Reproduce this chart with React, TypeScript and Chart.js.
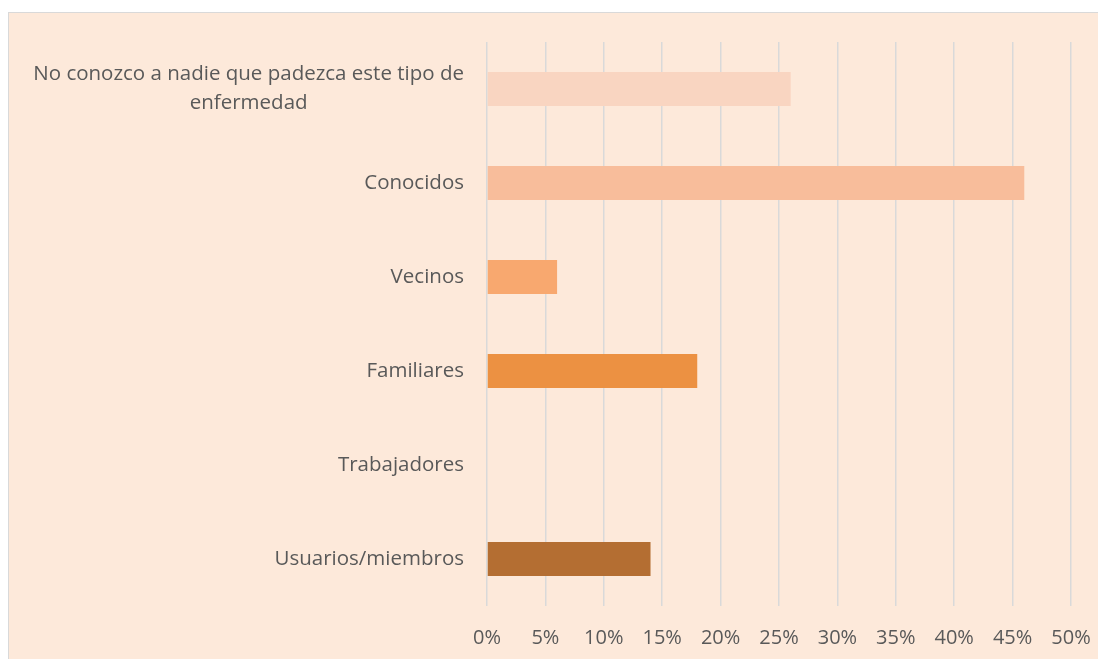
import React, { useEffect, useRef } from "react";
import { Chart, registerables } from "chart.js";

Chart.register(...registerables);

const categories: string[][] = [
  ["No conozco a nadie que padezca este tipo de", "enfermedad"],
  ["Conocidos"],
  ["Vecinos"],
  ["Familiares"],
  ["Trabajadores"],
  ["Usuarios/miembros"],
];
const values: number[] = [26, 46, 6, 18, 0, 14];
const barColors: string[] = ["#F9D5C1", "#F8BD9B", "#F8A86F", "#EC9142", "#D97F35", "#B46E32"];
const xMax = 50;
const xStep = 5;

const FONT = "'Open Sans', sans-serif";
const TEXT = "#595959";

const yLabelPlugin = {
  id: "yLabels",
  afterDraw(chart: any) {
    const ctx = chart.ctx;
    const y = chart.scales.y;
    const rightEdge = chart.chartArea.left - 23;
    const lineH = 29;
    ctx.save();
    ctx.font = `20.5px ${FONT}`;
    ctx.fillStyle = TEXT;
    ctx.textAlign = "center";
    ctx.textBaseline = "middle";
    categories.forEach((lines, i) => {
      const cy = y.getPixelForValue(i);
      const widest = Math.max(...lines.map((l) => ctx.measureText(l).width));
      const cx = rightEdge - widest / 2;
      const start = cy - ((lines.length - 1) * lineH) / 2;
      lines.forEach((l, j) => ctx.fillText(l, cx, start + j * lineH));
    });
    ctx.restore();
  },
};

export default function App() {
  const ref = useRef<HTMLCanvasElement>(null);
  useEffect(() => {
    if (!ref.current) return;
    const chart = new Chart(ref.current, {
      type: "bar",
      data: {
        labels: categories.map((c) => c.join(" ")),
        datasets: [
          {
            data: values,
            backgroundColor: barColors,
            barPercentage: 0.36,
            categoryPercentage: 1,
          },
        ],
      },
      options: {
        indexAxis: "y",
        animation: false,
        responsive: false,
        layout: { padding: { top: 29, right: 35, left: 0, bottom: 0 } },
        plugins: { legend: { display: false }, tooltip: { enabled: false } },
        scales: {
          x: {
            min: 0,
            max: xMax,
            ticks: {
              stepSize: xStep,
              callback: (v: any) => `${v}%`,
              color: TEXT,
              font: { family: FONT, size: 20 },
              padding: 20,
              maxRotation: 0,
            },
            grid: { color: "#D9D9D9", lineWidth: 1.5, drawTicks: false },
            border: { display: false },
            afterFit: (s: any) => {
              s.height = 53;
              s.paddingLeft = 0;
              s.paddingRight = 0;
            },
          },
          y: {
            ticks: { display: false },
            grid: { display: false, drawTicks: false },
            border: { display: false },
            afterFit: (s: any) => {
              s.width = 478;
            },
          },
        },
      },
      plugins: [yLabelPlugin],
    });
    return () => chart.destroy();
  }, []);
  return (
    <div
      style={{
        marginTop: 4,
        width: 1098,
        height: 647,
        background: "#FDE9DA",
        borderTop: "1px solid #D9D9D9",
        borderLeft: "1px solid #D9D9D9",
        boxSizing: "border-box",
      }}
    >
      <canvas ref={ref} width={1097} height={646} style={{ display: "block" }} />
    </div>
  );
}
